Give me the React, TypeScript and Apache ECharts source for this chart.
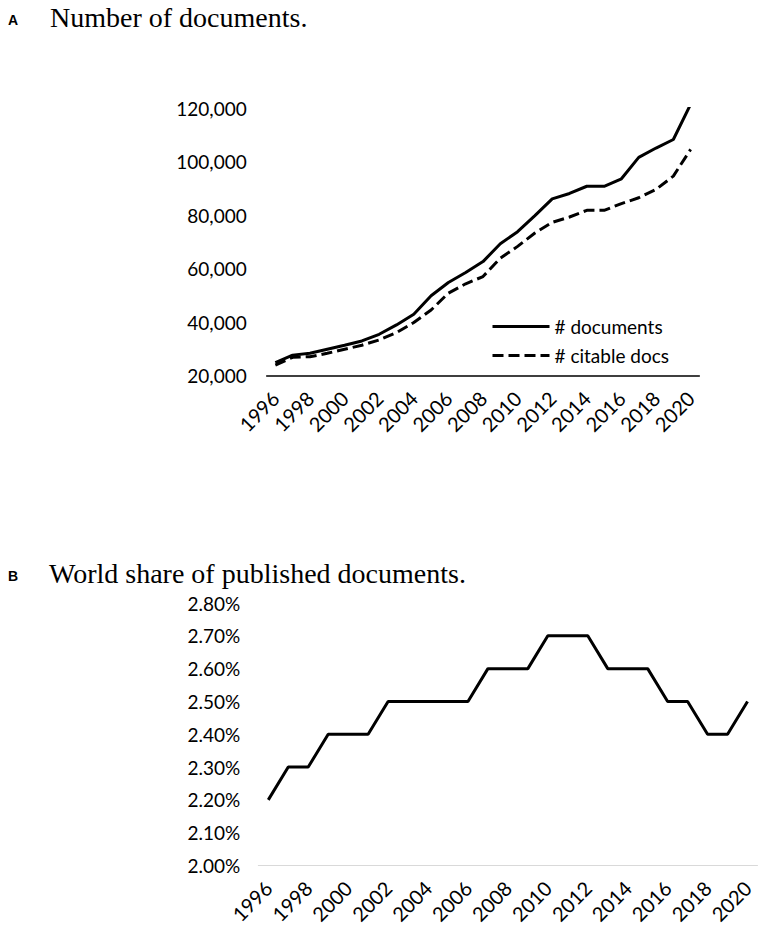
import React, { useEffect, useRef } from "react";
import * as echarts from "echarts";

const years = [
  "1996", "1997", "1998", "1999", "2000", "2001", "2002", "2003", "2004", "2005",
  "2006", "2007", "2008", "2009", "2010", "2011", "2012", "2013", "2014", "2015",
  "2016", "2017", "2018", "2019", "2020",
];

const documents = [
  24900, 27700, 28400, 29900, 31400, 33000, 35500, 39000, 43000, 49900,
  54900, 58600, 62700, 69400, 73900, 79900, 86200, 88200, 90900, 90900,
  93700, 101700, 105200, 108400, 121600,
];

const citableDocs = [
  24000, 26900, 27100, 28400, 29900, 31400, 33400, 36100, 39900, 44600,
  50900, 54400, 57100, 64000, 68400, 73400, 77400, 79400, 81900, 81900,
  84400, 86600, 89700, 94700, 104700,
];

const worldShare = [
  2.2, 2.3, 2.3, 2.4, 2.4, 2.4, 2.5, 2.5, 2.5, 2.5,
  2.5, 2.6, 2.6, 2.6, 2.7, 2.7, 2.7, 2.6, 2.6, 2.6,
  2.5, 2.5, 2.4, 2.4, 2.5,
];

const seriesNames = ["# documents", "# citable docs"];
const titleA = "Number of documents.";
const titleB = "World share of published documents.";

const SANS = "Lato";
const SERIF = "Liberation Serif";

export default function App() {
  const ref = useRef<HTMLDivElement>(null);

  useEffect(() => {
    if (!ref.current) return;
    const chart = echarts.init(ref.current, undefined, { renderer: "svg" });
    const xLabel = {
      interval: 1,
      rotate: 45,
      margin: 19,
      fontFamily: SANS,
      fontSize: 20,
      color: "#000",
    };
    const option: any = {
      animation: false,
      backgroundColor: "#ffffff",
      title: [
        {
          text: "A",
          left: 8,
          top: 13,
          padding: 0,
          textStyle: { fontFamily: "Liberation Sans", fontWeight: "bold", fontSize: 14, color: "#000" },
        },
        {
          text: titleA,
          left: 50,
          top: 3,
          padding: 0,
          textStyle: { fontFamily: SERIF, fontWeight: "normal", fontSize: 28, color: "#000" },
        },
        {
          text: "B",
          left: 8,
          top: 569,
          padding: 0,
          textStyle: { fontFamily: "Liberation Sans", fontWeight: "bold", fontSize: 14, color: "#000" },
        },
        {
          text: titleB,
          left: 49,
          top: 559,
          padding: 0,
          textStyle: { fontFamily: SERIF, fontWeight: "normal", fontSize: 28, color: "#000" },
        },
      ],
      legend: {
        data: seriesNames,
        orient: "vertical",
        left: 491,
        top: 317,
        padding: 0,
        itemWidth: 57,
        itemHeight: 14,
        itemGap: 10,
        itemStyle: { opacity: 0, borderWidth: 0 },
        lineStyle: { width: 3 },
        textStyle: { fontFamily: SANS, fontSize: 19, color: "#000" },
      },
      grid: [
        { left: 266.7, right: 65.7, top: 108.5, bottom: 555.3 },
        { left: 258.3, right: 7.5, top: 603, bottom: 65.5 },
      ],
      xAxis: [
        {
          type: "category",
          gridIndex: 0,
          data: years,
          boundaryGap: true,
          axisLine: { lineStyle: { color: "#000", width: 1.5 } },
          axisTick: { show: false },
          axisLabel: xLabel,
        },
        {
          type: "category",
          gridIndex: 1,
          data: years,
          boundaryGap: true,
          axisLine: { lineStyle: { color: "#d9d9d9", width: 1 } },
          axisTick: { show: false },
          axisLabel: xLabel,
        },
      ],
      yAxis: [
        {
          type: "value",
          gridIndex: 0,
          min: 20000,
          max: 120000,
          interval: 20000,
          axisLine: { show: false },
          axisTick: { show: false },
          splitLine: { show: false },
          axisLabel: {
            margin: 20,
            fontFamily: SANS,
            fontSize: 19,
            color: "#000",
            formatter: (v: number) => v.toLocaleString("en-US"),
          },
        },
        {
          type: "value",
          gridIndex: 1,
          min: 2.0,
          max: 2.8,
          interval: 0.1,
          axisLine: { show: false },
          axisTick: { show: false },
          splitLine: { show: false },
          axisLabel: {
            margin: 18,
            fontFamily: SANS,
            fontSize: 19,
            color: "#000",
            formatter: (v: number) => v.toFixed(2) + "%",
          },
        },
      ],
      series: [
        {
          name: seriesNames[0],
          type: "line",
          xAxisIndex: 0,
          yAxisIndex: 0,
          data: documents,
          symbol: "none",
          lineStyle: { color: "#000", width: 3, type: "solid" },
          itemStyle: { color: "#000" },
        },
        {
          name: seriesNames[1],
          type: "line",
          xAxisIndex: 0,
          yAxisIndex: 0,
          data: citableDocs,
          symbol: "none",
          lineStyle: { color: "#000", width: 3, type: [11, 5] },
          itemStyle: { color: "#000" },
        },
        {
          name: "World share",
          type: "line",
          xAxisIndex: 1,
          yAxisIndex: 1,
          data: worldShare,
          symbol: "none",
          lineStyle: { color: "#000", width: 3 },
          itemStyle: { color: "#000" },
        },
      ],
    };
    chart.setOption(option);
    return () => chart.dispose();
  }, []);

  return (
    <div
      ref={ref}
      style={{ position: "fixed", left: 0, top: 0, width: 765, height: 931, background: "#fff" }}
    />
  );
}
